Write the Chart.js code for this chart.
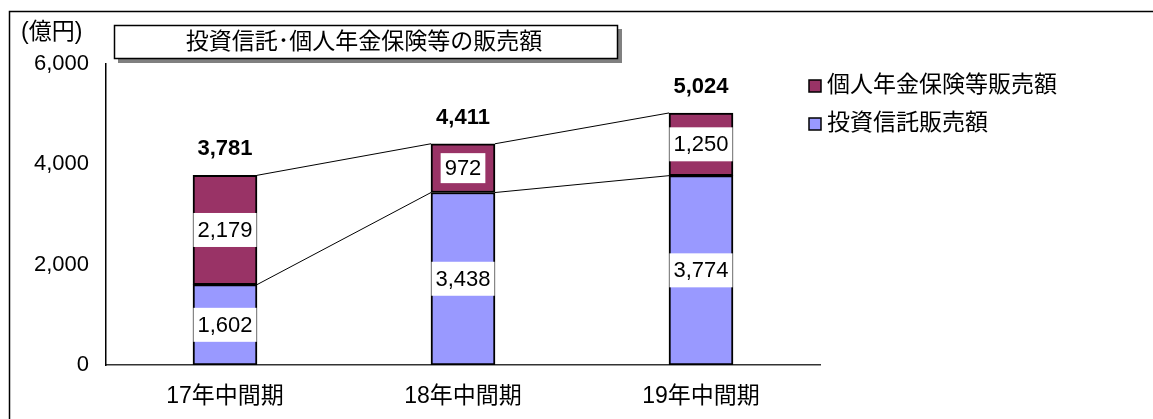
<!DOCTYPE html>
<html><head><meta charset="utf-8">
<script src="https://cdn.jsdelivr.net/npm/chart.js@4.4.1/dist/chart.umd.min.js"></script>
<style>html,body{margin:0;padding:0;background:#fff;}#wrap{width:1153px;height:419px;}</style>
</head><body>
<div id="wrap"><canvas id="c" width="1153" height="419"></canvas></div>
<script>
const categories = ['17年中間期', '18年中間期', '19年中間期'];
const toushinValues = [1602, 3438, 3774];
const nenkinValues = [2179, 972, 1250];
const totalValues = [3781, 4411, 5024];
const yTickValues = [0, 2000, 4000, 6000];
const seriesNames = ['投資信託販売額', '個人年金保険等販売額'];
const chartTitle = '投資信託･個人年金保険等の販売額';
const unitLabel = '(億円)';

const FONT = '"Liberation Sans", "Noto Sans CJK JP", Arial, sans-serif';
const fmt = v => v.toLocaleString('en-US');

const decor = {
  id: 'decor',
  beforeDraw(chart) {
    const ctx = chart.ctx;
    ctx.save();
    ctx.strokeStyle = '#000'; ctx.lineWidth = 1.5;
    ctx.beginPath(); ctx.moveTo(9.5, 419); ctx.lineTo(9.5, 11.5); ctx.lineTo(1153, 11.5); ctx.stroke();
    ctx.fillStyle = '#808080'; ctx.fillRect(118, 29, 504, 34);
    ctx.fillStyle = '#fff'; ctx.fillRect(114, 25, 504, 34);
    ctx.strokeStyle = '#000'; ctx.lineWidth = 1.5; ctx.strokeRect(114.5, 25.5, 503, 33);
    ctx.fillStyle = '#000'; ctx.font = '23px ' + FONT; ctx.textAlign = 'center'; ctx.textBaseline = 'middle';
    ctx.fillText(chartTitle, 364, 43);
    ctx.textAlign = 'left'; ctx.fillText(unitLabel, 21, 33);
    const leg = [[seriesNames[1], '#993366', 86], [seriesNames[0], '#9999FF', 124]];
    leg.forEach(([t, c, y]) => {
      ctx.fillStyle = c; ctx.fillRect(809, y - 6, 12, 12);
      ctx.strokeStyle = '#000'; ctx.lineWidth = 1.5; ctx.strokeRect(809, y - 6, 12, 12);
      ctx.fillStyle = '#000'; ctx.font = '23px ' + FONT; ctx.textAlign = 'left'; ctx.textBaseline = 'middle';
      ctx.fillText(t, 827, y);
    });
    ctx.restore();
  },
  afterDatasetsDraw(chart) {
    const ctx = chart.ctx;
    const m0 = chart.getDatasetMeta(0), m1 = chart.getDatasetMeta(1);
    ctx.save();
    ctx.strokeStyle = '#000'; ctx.lineWidth = 1;
    for (let i = 0; i < categories.length - 1; i++) {
      [m0, m1].forEach(m => {
        const a = m.data[i], b = m.data[i + 1];
        ctx.beginPath();
        ctx.moveTo(a.x + a.width / 2, a.y);
        ctx.lineTo(b.x - b.width / 2, b.y);
        ctx.stroke();
      });
    }
    ctx.font = '22px ' + FONT; ctx.textAlign = 'center'; ctx.textBaseline = 'middle';
    [[m0, toushinValues], [m1, nenkinValues]].forEach(([m, vals]) => {
      m.data.forEach((el, i) => {
        const t = fmt(vals[i]);
        const cy = (el.y + el.base) / 2;
        const w = ctx.measureText(t).width + 8;
        const h = vals[i] < 1000 ? 30 : 34;
        ctx.fillStyle = '#fff'; ctx.fillRect(el.x - w / 2, cy - h / 2, w, h);
        ctx.fillStyle = '#000'; ctx.fillText(t, el.x, cy + 1);
      });
    });
    ctx.font = 'bold 22px ' + FONT;
    m1.data.forEach((el, i) => {
      ctx.fillText(fmt(totalValues[i]), el.x, el.y - 26);
    });
    ctx.restore();
  }
};

new Chart(document.getElementById('c'), {
  type: 'bar',
  data: {
    labels: categories,
    datasets: [
      { label: seriesNames[0], data: toushinValues, backgroundColor: '#9999FF', borderColor: '#000', borderWidth: 2, borderSkipped: false, barThickness: 64 },
      { label: seriesNames[1], data: nenkinValues, backgroundColor: '#993366', borderColor: '#000', borderWidth: 2, borderSkipped: false, barThickness: 64 }
    ]
  },
  options: {
    responsive: false,
    animation: false,
    layout: { padding: { top: 64, right: 333, left: 0, bottom: 0 } },
    plugins: { legend: { display: false }, tooltip: { enabled: false }, title: { display: false } },
    scales: {
      x: {
        stacked: true,
        grid: { display: false, drawTicks: false },
        border: { display: true, color: '#333', width: 1.5 },
        ticks: { color: '#000', font: { size: 23, family: FONT }, padding: 18, maxRotation: 0 },
        afterFit(s) { s.height = 54; }
      },
      y: {
        stacked: true,
        min: 0, max: 6000,
        grid: { display: false, drawTicks: false },
        border: { display: true, color: '#000', width: 1.5 },
        afterBuildTicks(s) { s.ticks = yTickValues.map(v => ({ value: v })); },
        ticks: { color: '#000', font: { size: 22, family: FONT }, padding: 17, callback: v => fmt(v) },
        afterFit(s) { s.width = 106; }
      }
    }
  },
  plugins: [decor]
});
</script>
</body></html>
